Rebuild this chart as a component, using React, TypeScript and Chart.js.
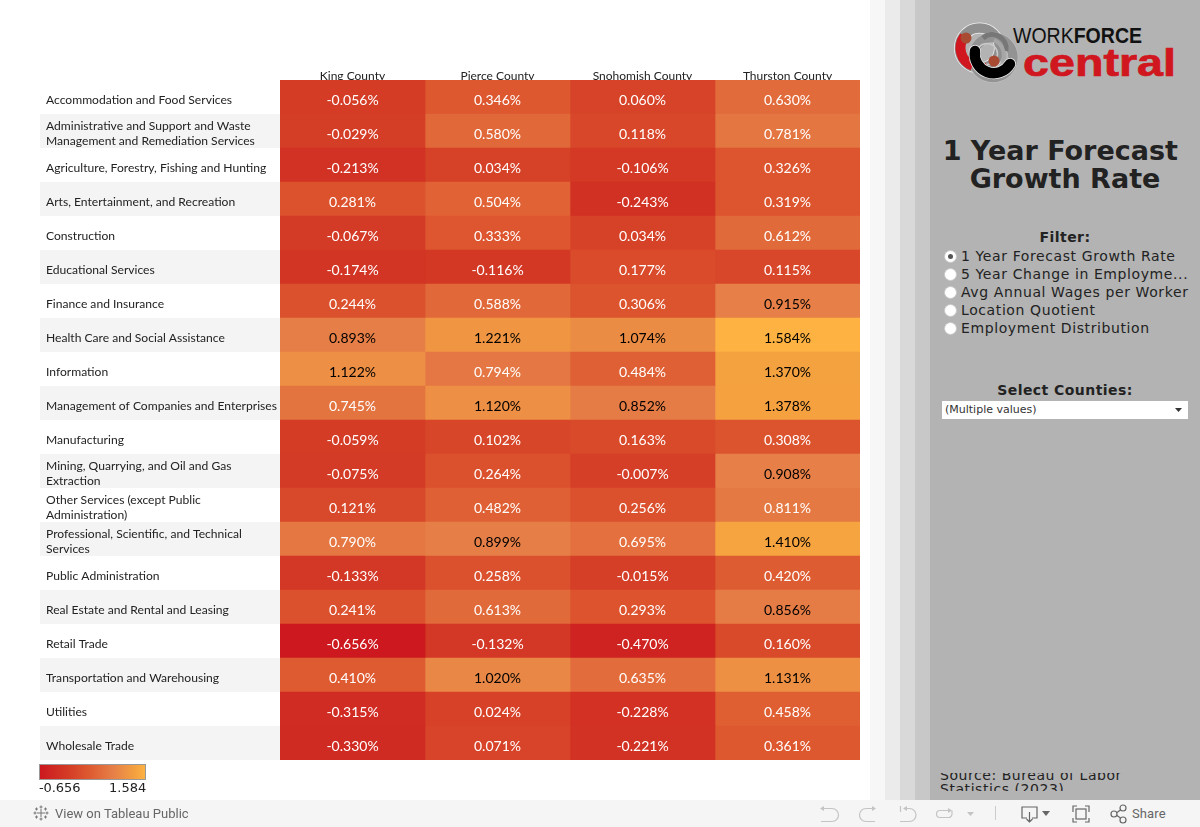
import React, { useEffect, useRef } from "react";
import { Chart, registerables } from "chart.js";

Chart.register(...registerables);

const counties = ["King County", "Pierce County", "Snohomish County", "Thurston County"];
const industries: (string | string[])[] = [
  "Accommodation and Food Services",
  ["Administrative and Support and Waste", "Management and Remediation Services"],
  "Agriculture, Forestry, Fishing and Hunting",
  "Arts, Entertainment, and Recreation",
  "Construction",
  "Educational Services",
  "Finance and Insurance",
  "Health Care and Social Assistance",
  "Information",
  "Management of Companies and Enterprises",
  "Manufacturing",
  ["Mining, Quarrying, and Oil and Gas", "Extraction"],
  ["Other Services (except Public", "Administration)"],
  ["Professional, Scientific, and Technical", "Services"],
  "Public Administration",
  "Real Estate and Rental and Leasing",
  "Retail Trade",
  "Transportation and Warehousing",
  "Utilities",
  "Wholesale Trade",
];
const kingValues = [-0.056, -0.029, -0.213, 0.281, -0.067, -0.174, 0.244, 0.893, 1.122, 0.745, -0.059, -0.075, 0.121, 0.79, -0.133, 0.241, -0.656, 0.41, -0.315, -0.33];
const pierceValues = [0.346, 0.58, 0.034, 0.504, 0.333, -0.116, 0.588, 1.221, 0.794, 1.12, 0.102, 0.264, 0.482, 0.899, 0.258, 0.613, -0.132, 1.02, 0.024, 0.071];
const snohomishValues = [0.06, 0.118, -0.106, -0.243, 0.034, 0.177, 0.306, 1.074, 0.484, 0.852, 0.163, -0.007, 0.256, 0.695, -0.015, 0.293, -0.47, 0.635, -0.228, -0.221];
const thurstonValues = [0.63, 0.781, 0.326, 0.319, 0.612, 0.115, 0.915, 1.584, 1.37, 1.378, 0.308, 0.908, 0.811, 1.41, 0.42, 0.856, 0.16, 1.131, 0.458, 0.361];
const countyValues = [kingValues, pierceValues, snohomishValues, thurstonValues];
const filterOptions = [
  "1 Year Forecast Growth Rate",
  "5 Year Change in Employme...",
  "Avg Annual Wages per Worker",
  "Location Quotient",
  "Employment Distribution",
];
const colorMin = -0.656;
const colorMax = 1.584;
const colorStopAt = [0, 0.27, 0.47, 0.7, 0.9, 1];
const colorStops = [
  [204, 24, 30],
  [212, 60, 38],
  [222, 90, 48],
  [230, 128, 72],
  [244, 160, 64],
  [253, 178, 65],
];

function heat(v: number) {
  const t = (v - colorMin) / (colorMax - colorMin);
  let k = 0;
  while (k < colorStopAt.length - 2 && t > colorStopAt[k + 1]) k++;
  const u = (t - colorStopAt[k]) / (colorStopAt[k + 1] - colorStopAt[k]);
  const c = colorStops[k].map((x, i) => Math.round(x + (colorStops[k + 1][i] - x) * u));
  return `rgb(${c[0]},${c[1]},${c[2]})`;
}

const legendGradient = `linear-gradient(to right, ${colorStops
  .map((c, i) => `rgb(${c[0]},${c[1]},${c[2]}) ${colorStopAt[i] * 100}%`)
  .join(", ")})`;

const bandPlugin = {
  id: "bands",
  beforeDraw(chart: any) {
    const { ctx, scales } = chart;
    const y = scales.y;
    ctx.save();
    ctx.fillStyle = "#f4f4f4";
    industries.forEach((_, i) => {
      if (i % 2 === 1) {
        const c = y.getPixelForValue(i);
        ctx.fillRect(40, c - 17, chart.chartArea.left - 40, 34);
      }
    });
    ctx.restore();
  },
};

const valuePlugin = {
  id: "cellValues",
  afterDatasetsDraw(chart: any) {
    const { ctx } = chart;
    ctx.save();
    ctx.font = "14px Lato";
    ctx.textAlign = "center";
    ctx.textBaseline = "middle";
    countyValues.forEach((vals, d) => {
      const meta = chart.getDatasetMeta(d);
      vals.forEach((v, i) => {
        const el = meta.data[i];
        ctx.fillStyle = v >= 0.85 ? "#000000" : "#ffffff";
        const cx = (el.base + el.x) / 2;
        ctx.fillText(`${v.toFixed(3)}%`, cx, el.y + 3);
      });
    });
    ctx.restore();
  },
};

// Tableau sets its labels slightly under the row centre: nudge the tick text down.
function nudgeLabels(s: any) {
  const orig = s.constructor.prototype.getLabelItems.bind(s);
  s.getLabelItems = (area: any) =>
    orig(area).map((item: any) => ({ ...item, textOffset: item.textOffset + 3 }));
}

function Logo() {
  return (
    <svg width="240" height="75" viewBox="0 0 240 75" style={{ position: "absolute", left: 950, top: 18 }}>
      <circle cx="29.500" cy="30" r="20" fill="none" stroke="#f2f2f2" strokeWidth="11" />
      <circle cx="29.500" cy="30" r="20" fill="none" stroke="#8f8f8f" strokeWidth="9.500" />
      <circle cx="43" cy="39.500" r="20" fill="none" stroke="#c4c4c4" strokeWidth="10.500" />
      <circle cx="43" cy="39.500" r="20" fill="none" stroke="#939393" strokeWidth="9.500" />
      <path d="M33 20 A14 14 0 0 1 56 33" fill="none" stroke="#777" strokeWidth="5" />
      <circle cx="37" cy="36" r="10.500" fill="none" stroke="#c9c9c9" strokeWidth="1.500" />
      <path d="M44 22 A17 17 0 0 1 52 45" fill="none" stroke="#a6a6a6" strokeWidth="4" />
      <path d="M14.300 18.600 A19 19 0 0 0 22.500 47.700" fill="none" stroke="#d0161f" strokeWidth="10" />
      <path d="M33 46 C34 50 38 53 43 52" fill="none" stroke="#d0161f" strokeWidth="6" />
      <path d="M25 33 A19 19 0 0 0 60 46" fill="none" stroke="#f2f2f2" strokeWidth="12" strokeLinecap="round" />
      <path d="M25 33 A19 19 0 0 0 60 46" fill="none" stroke="#000" strokeWidth="10.500" strokeLinecap="round" />
      <circle cx="16" cy="20" r="5.500" fill="#a94a32" />
      <circle cx="44" cy="43" r="5.500" fill="#a94a32" />
      <text x="63" y="25" fontFamily="Liberation Sans" fontSize="21.500" fill="#111" textLength="129" lengthAdjust="spacingAndGlyphs">WORK<tspan fontWeight="bold">FORCE</tspan></text>
      <text x="73" y="58" fontFamily="Liberation Sans" fontWeight="bold" fontSize="38" fill="#d0161f" stroke="#d0161f" strokeWidth="0.700" textLength="153" lengthAdjust="spacingAndGlyphs">central</text>
    </svg>
  );
}

const abs = (left: number, top: number, extra: React.CSSProperties = {}): React.CSSProperties => ({
  position: "absolute",
  left,
  top,
  whiteSpace: "nowrap",
  ...extra,
});

const dejavu = '"DejaVu Sans"';
const ink = "#222222";
const iconStroke = { fill: "none", stroke: "#c4c4c4", strokeWidth: 1.2 };
const iconDark = { fill: "none", stroke: "#666", strokeWidth: 1.2 };

export default function App() {
  const ref = useRef<HTMLCanvasElement>(null);
  useEffect(() => {
    const chart = new Chart(ref.current!, {
      type: "bar",
      data: {
        labels: industries as any,
        datasets: countyValues.map((vals, d) => ({
          label: counties[d],
          data: vals.map(() => [d, d + 1]) as any,
          backgroundColor: vals.map(heat),
          borderWidth: 0,
          barPercentage: 1,
          categoryPercentage: 1,
          grouped: false,
        })),
      },
      options: {
        indexAxis: "y",
        responsive: false,
        animation: false,
        layout: { padding: { left: 46, right: 10, top: 0, bottom: 40 } },
        plugins: { legend: { display: false }, tooltip: { enabled: false } },
        scales: {
          y: {
            type: "category",
            grid: { display: false },
            border: { display: false },
            afterFit: (s: any) => { s.width = 234; nudgeLabels(s); },
            ticks: {
              autoSkip: false,
              crossAlign: "far",
              padding: 0,
              color: "#222222",
              font: { family: "Lato", size: 12.1, lineHeight: 1.24 },
            },
          },
          x: { type: "linear", display: false, min: 0, max: 4 },
          top: {
            type: "category",
            position: "top",
            labels: counties,
            offset: true,
            grid: { display: false, drawTicks: false },
            border: { display: false },
            afterFit: (s: any) => { s.height = 80; nudgeLabels(s); },
            ticks: {
              padding: 0,
              maxRotation: 0,
              color: "#222222",
              font: { family: "Lato", size: 12 },
            },
          },
        },
      } as any,
      plugins: [bandPlugin, valuePlugin],
    });
    return () => chart.destroy();
  }, []);

  return (
    <div style={{ position: "fixed", left: 0, top: 0, width: 1200, height: 827, overflow: "hidden", background: "#fff" }}>
      <canvas ref={ref} width={870} height={800} style={{ position: "absolute", left: 0, top: 0 }} />

      <div style={abs(39, 764, { width: 105, height: 14, border: "1px solid #999", background: legendGradient })} />
      <div style={abs(39, 780, { font: `13px ${dejavu}`, color: ink, letterSpacing: "-0.1px" })}>-0.656</div>
      <div style={abs(109, 780, { font: `13px ${dejavu}`, color: ink })}>1.584</div>

      <div style={abs(870, 0, { width: 15, height: 800, background: "#f7f7f7" })} />
      <div style={abs(885, 0, { width: 15, height: 800, background: "#ebebeb" })} />
      <div style={abs(900, 0, { width: 15, height: 800, background: "#d9d9d9" })} />
      <div style={abs(915, 0, { width: 15, height: 800, background: "#c8c8c8" })} />
      <div style={abs(930, 0, { width: 270, height: 800, background: "#b3b3b3" })} />

      <Logo />

      <div style={abs(930, 137, { width: 270, textAlign: "center", font: `bold 27px/28px ${dejavu}`, color: ink })}>
        1 Year Forecast{"\u00a0"}<br />Growth Rate
      </div>

      <div style={abs(930, 228, { width: 270, textAlign: "center", font: `bold 14px/18px ${dejavu}`, letterSpacing: "0.45px", color: ink })}>Filter:</div>
      {filterOptions.map((o, i) => (
        <React.Fragment key={o}>
          <div style={abs(944, 250 + i * 18, { width: 13, height: 13, borderRadius: "50%", background: "#fff", border: "1px solid #c8c8c8", boxSizing: "border-box" })} />
          {i === 0 && <div style={abs(948, 254, { width: 5, height: 5, borderRadius: "50%", background: "#555" })} />}
          <div style={abs(961, 247 + i * 18, { font: `14px/18px ${dejavu}`, letterSpacing: "0.6px", color: ink })}>{o}</div>
        </React.Fragment>
      ))}

      <div style={abs(930, 381, { width: 270, textAlign: "center", font: `bold 14px/18px ${dejavu}`, letterSpacing: "0.45px", color: ink })}>Select Counties:</div>
      <div style={abs(942, 401, { width: 246, height: 18, background: "#fff" })} />
      <div style={abs(945, 402, { font: `11px/15px ${dejavu}`, color: "#333" })}>(Multiple values)</div>
      <svg width="8" height="5" style={{ position: "absolute", left: 1175, top: 408 }}><path d="M0 0H7L3.500 4Z" fill="#333" /></svg>

      <div style={abs(940, 773, { width: 240, height: 18, overflow: "hidden" })}>
        <div style={{ position: "absolute", left: 0, top: -5, width: 200, whiteSpace: "normal", font: `14px/14px ${dejavu}`, letterSpacing: "0.55px", color: ink }}>
          Source: Bureau of Labor Statistics (2023)
        </div>
      </div>

      <div style={abs(0, 800, { width: 1200, height: 27, background: "#f5f5f5" })} />
      <svg width="18" height="18" viewBox="0 0 18 18" style={{ position: "absolute", left: 32, top: 804 }}>
        <path d="M9 5V13M5 9H13M9 1.500V4.500M7.500 3H10.500M9 13.500V16.500M7.500 15H10.500M1.500 9H4.500M3 7.500V10.500M13.500 9H16.500M15 7.500V10.500M4.500 3.500V6.500M3 5H6M13.500 3.500V6.500M12 5H15M4.500 11.500V14.500M3 13H6M13.500 11.500V14.500M12 13H15" stroke="#777" strokeWidth="1" fill="none" />
      </svg>
      <div style={abs(55, 805, { font: "13px/17px Roboto", color: "#666" })}>View on Tableau Public</div>

      <svg width="380" height="27" style={{ position: "absolute", left: 815, top: 800 }}>
        <path d="M6 8.500H17A6.500 6.500 0 0 1 17 21.500H6" {...iconStroke} />
        <path d="M5 8.500L9 6V11Z" fill="#c4c4c4" />
        <path d="M60 8.500H51A6.500 6.500 0 0 0 51 21.500H60" {...iconStroke} />
        <path d="M61 8.500L57 6V11Z" fill="#c4c4c4" />
        <path d="M85.500 6V12" {...iconStroke} />
        <path d="M89 8.500H94.500A6.500 6.500 0 0 1 94.500 21.500H85" {...iconStroke} />
        <path d="M88 8.500L92 6V11Z" fill="#c4c4c4" />
        <path d="M136 10.500H125A3.500 3.500 0 0 0 125 17.500H133.500A3.500 3.500 0 0 0 137 14V10.500" {...iconStroke} />
        <path d="M137 10.500L133 8V13Z" fill="#c4c4c4" />
        <path d="M152 12H159L155.500 16Z" fill="#c4c4c4" />
        <path d="M180.500 6V20" stroke="#ccc" />
        <path d="M212 18H207V7H222V18H217M214.500 12V22M211.500 19L214.500 22L217.500 19" {...iconDark} />
        <path d="M227 11H235L231 16Z" fill="#666" />
        <path d="M258 12V6H262M270 6H274V12M258 18V22H262M270 22H274V18" {...iconDark} />
        <rect x="261" y="9" width="10" height="10" {...iconDark} />
        <circle cx="299" cy="14" r="3" {...iconDark} />
        <circle cx="308" cy="8" r="3" {...iconDark} />
        <circle cx="308" cy="20" r="3" {...iconDark} />
        <path d="M302 12.500L305.500 10M302 15.500L305.500 18" {...iconDark} />
      </svg>
      <div style={abs(1132, 805, { font: "13px/17px Roboto", letterSpacing: "0.1px", color: "#666" })}>Share</div>
    </div>
  );
}
